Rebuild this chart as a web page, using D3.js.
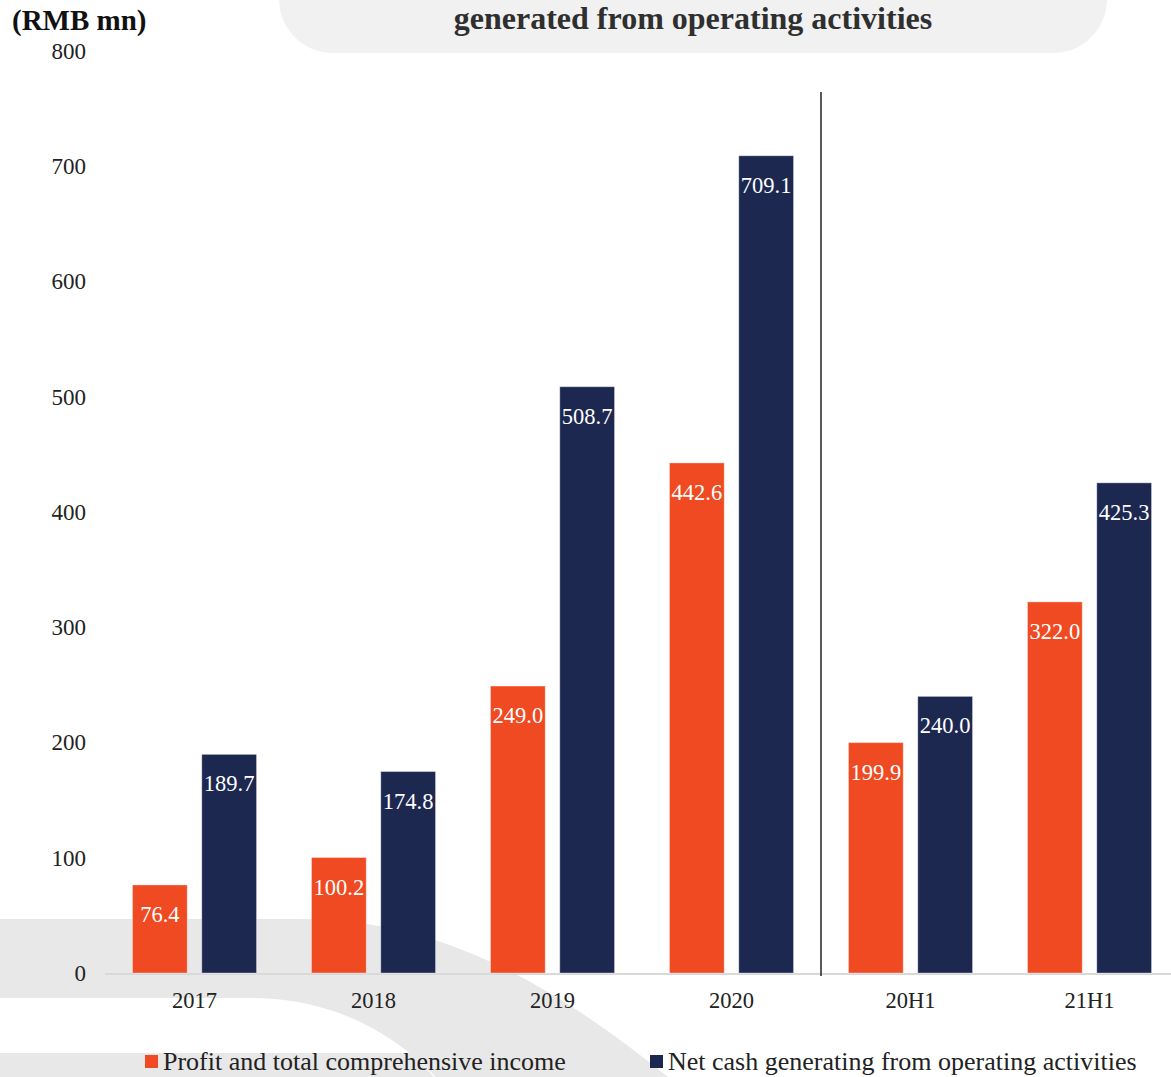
<!DOCTYPE html>
<html>
<head>
<meta charset="utf-8">
<script src="https://cdn.jsdelivr.net/npm/d3@7"></script>
<style>
  html, body { margin: 0; padding: 0; background: #ffffff; }
  svg { display: block; }
  text { font-family: "Liberation Serif", "DejaVu Serif", serif; }
</style>
</head>
<body>
<svg id="chart" width="1171" height="1077"></svg>
<script>
// Periods shown on the x axis
const categories = ["2017", "2018", "2019", "2020", "20H1", "21H1"];
// Series names (legend order)
const seriesNames = ["Profit and total comprehensive income", "Net cash generating from operating activities"];
// Values, RMB mn
const profit = [76.4, 100.2, 249.0, 442.6, 199.9, 322.0];
const netCash = [189.7, 174.8, 508.7, 709.1, 240.0, 425.3];
// Y axis ticks
const yTicks = [0, 100, 200, 300, 400, 500, 600, 700, 800];

const colors = ["#EF4A22", "#1D2851"];
const W = 1171, H = 1077;
const svg = d3.select("#chart");

// Decorative background swoosh at the lower left
const deco = svg.append("g");
deco.append("path")
  .attr("d", "M0,919 L300,919 C420,919 530,965 668,1077 L436,1077 C390,1030 330,998 250,998 L0,998 Z")
  .attr("fill", "#e8e8e8");
deco.append("path")
  .attr("d", "M0,1053 L412,1053 L434,1077 L0,1077 Z")
  .attr("fill", "#e8e8e8");

// Rounded title banner
svg.append("rect")
  .attr("x", 279).attr("y", -60).attr("width", 828).attr("height", 113)
  .attr("rx", 54).attr("ry", 54)
  .attr("fill", "#f1f1f1");
svg.append("text")
  .attr("x", 693).attr("y", 29)
  .attr("text-anchor", "middle")
  .attr("font-size", 32).attr("font-weight", "bold")
  .attr("fill", "#2f2f2f")
  .text("generated from operating activities");

// Unit label
svg.append("text")
  .attr("x", 12).attr("y", 30)
  .attr("font-size", 29).attr("font-weight", "bold")
  .attr("fill", "#111")
  .text("(RMB mn)");

// Scales
const x0 = d3.scaleBand().domain(categories).range([105, 1179])
  .paddingInner(0.307).paddingOuter(0.1535);
const x1 = d3.scaleBand().domain(d3.range(2)).range([0, x0.bandwidth()]).paddingInner(0.21);
const y = d3.scaleLinear().domain([0, 800]).range([973, 51]);

// Y axis (labels only)
const yAxis = svg.append("g")
  .attr("transform", "translate(86,0)")
  .call(d3.axisLeft(y).tickValues(yTicks).tickSize(0).tickPadding(0));
yAxis.select(".domain").remove();
yAxis.selectAll("text")
  .attr("font-family", "'Liberation Serif', serif")
  .attr("font-size", 23)
  .attr("fill", "#222")
  .attr("text-anchor", "end");

// Baseline
svg.append("line")
  .attr("x1", 105).attr("x2", W).attr("y1", y(0) + 1).attr("y2", y(0) + 1)
  .attr("stroke", "#d9d9d9").attr("stroke-width", 2);

// X axis labels
const xAxis = svg.append("g")
  .attr("transform", `translate(0,${y(0) + 19})`)
  .call(d3.axisBottom(x0).tickSize(0).tickPadding(0));
xAxis.select(".domain").remove();
xAxis.selectAll("text")
  .attr("font-family", "'Liberation Serif', serif")
  .attr("font-size", 22.5)
  .attr("fill", "#222")
  .attr("dy", "0.7em");

// Bars
const rows = categories.map((c, i) => ({ cat: c, vals: [profit[i], netCash[i]] }));
const groups = svg.append("g").selectAll("g")
  .data(rows).join("g")
  .attr("transform", d => `translate(${x0(d.cat)},0)`);

groups.selectAll("rect")
  .data(d => d.vals.map((v, k) => ({ v, k })))
  .join("rect")
  .attr("x", d => x1(d.k))
  .attr("width", x1.bandwidth())
  .attr("y", d => y(d.v))
  .attr("height", d => y(0) - y(d.v))
  .attr("fill", d => colors[d.k])
  .attr("stroke", "rgba(255,255,255,0.35)")
  .attr("stroke-width", 1);

// Value labels inside bar tops
groups.selectAll("text.val")
  .data(d => d.vals.map((v, k) => ({ v, k })))
  .join("text")
  .attr("class", "val")
  .attr("x", d => x1(d.k) + x1.bandwidth() / 2)
  .attr("y", d => y(d.v) + 37)
  .attr("text-anchor", "middle")
  .attr("font-size", 22.5)
  .attr("fill", "#ffffff")
  .text(d => d.v.toFixed(1));

// Divider between annual and half-year periods
const divX = (x0("2020") + x0.bandwidth() + x0("20H1")) / 2;
svg.append("line")
  .attr("x1", divX).attr("x2", divX)
  .attr("y1", 92).attr("y2", y(0) + 3)
  .attr("stroke", "#222").attr("stroke-width", 1.5);

// Legend
const legendX = [145, 650];
const legend = svg.append("g").selectAll("g")
  .data(seriesNames).join("g")
  .attr("transform", (d, i) => `translate(${legendX[i]},1055)`);
legend.append("rect")
  .attr("width", 13).attr("height", 13)
  .attr("fill", (d, i) => colors[i]);
legend.append("text")
  .attr("x", 18).attr("y", 15)
  .attr("font-size", 26)
  .attr("fill", "#222")
  .text(d => d);
</script>
</body>
</html>
